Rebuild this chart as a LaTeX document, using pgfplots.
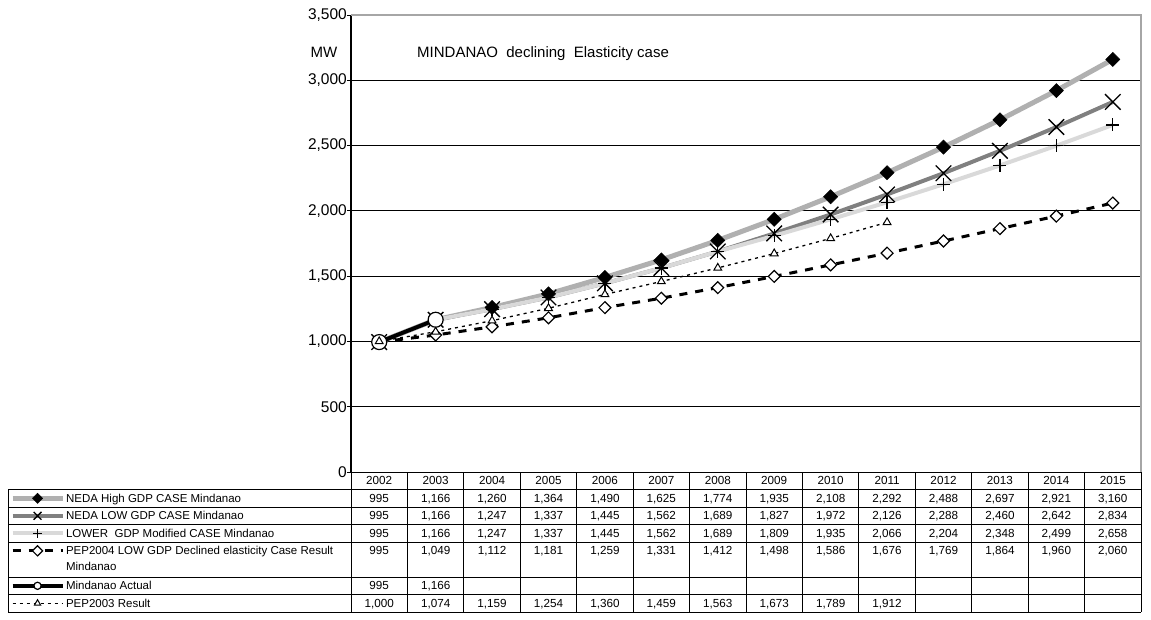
\documentclass[border=0pt]{standalone}
\usepackage{pgfplots}
\pgfplotsset{compat=1.18}
\usepackage{pgfplotstable}
\usepackage{fontspec}
\setmainfont{Liberation Sans}

\pgfplotstableread{
year high low lower pepf actual pept
2002 995 995 995 995 995 1000
2003 1166 1166 1166 1049 1166 1074
2004 1260 1247 1247 1112 nan 1159
2005 1364 1337 1337 1181 nan 1254
2006 1490 1445 1445 1259 nan 1360
2007 1625 1562 1562 1331 nan 1459
2008 1774 1689 1689 1412 nan 1563
2009 1935 1827 1809 1498 nan 1673
2010 2108 1972 1935 1586 nan 1789
2011 2292 2126 2066 1676 nan 1912
2012 2488 2288 2204 1769 nan nan
2013 2697 2460 2348 1864 nan nan
2014 2921 2642 2499 1960 nan nan
2015 3160 2834 2658 2060 nan nan
}\data

\begin{document}
\begin{tikzpicture}[x=1pt,y=1pt]
\path (0,0) rectangle (1151,619);
\begin{axis}[
  at={(351pt,147pt)}, anchor=south west,
  width=790pt, height=457pt, scale only axis,
  xmin=-0.5, xmax=13.5, ymin=0, ymax=3500,
  xtick=\empty,
  ytick={0,500,...,3500},
  ymajorgrids, grid style={black, line width=0.9pt},
  ytick pos=left, tick align=outside, major tick length=4pt,
  ytick style={black, line width=0.9pt},
  /pgf/number format/1000 sep={,},
  /pgf/number format/assume math mode=true,
  yticklabel style={font=\fontsize{15.5}{18}\selectfont, inner sep=0pt},
  axis line style={draw=none},
  clip=false,
  legend cell align=left,
  legend style={at={(axis description cs:-0.4316,-0.0383)}, anchor=north west,
    draw=none, fill=none, inner sep=0pt, outer sep=0pt, row sep=0pt, column sep=1pt,
    font=\fontsize{11.5}{17.5}\selectfont,
    nodes={inner sep=0pt, text height=12.8pt, text depth=4.7pt, anchor=base west}},
  legend image code/.code={\draw[mark size=3.6pt, mark repeat=2, mark phase=2] plot coordinates {(0pt,4pt) (25pt,4pt) (50pt,4pt)};},
]
\addplot[color=gray!62, line width=5pt, mark=square*, mark size=5pt,
  mark options={fill=black, draw=black, rotate=45, line width=0.5pt}]
  table[x expr=\coordindex, y=high]{\data};
\addlegendentry{NEDA High GDP CASE Mindanao}
\addplot[color=gray, line width=4pt, mark=x, mark size=11pt,
  mark options={draw=black, line width=1.3pt},
  legend image code/.code={\draw[mark size=5.5pt, mark repeat=2, mark phase=2] plot coordinates {(0pt,4pt) (25pt,4pt) (50pt,4pt)};}]
  table[x expr=\coordindex, y=low]{\data};
\addlegendentry{NEDA LOW GDP CASE Mindanao}
\addplot[color=gray!30, line width=4pt, mark=+, mark size=6.5pt,
  mark options={draw=black, line width=1.3pt},
  legend image code/.code={\draw[mark size=4.2pt, mark repeat=2, mark phase=2] plot coordinates {(0pt,4pt) (25pt,4pt) (50pt,4pt)};}]
  table[x expr=\coordindex, y=lower]{\data};
\addlegendentry{LOWER\ \ GDP Modified CASE Mindanao}
\addplot[color=black, line width=3pt, dash pattern=on 8pt off 8pt, mark=square*, mark size=4.2pt,
  mark options={solid, fill=white, draw=black, rotate=45, line width=1.2pt}]
  table[x expr=\coordindex, y=pepf]{\data};
\addlegendentry[text depth=22.2pt]{\vtop{\baselineskip=16pt\hbox{PEP2004 LOW GDP Declined elasticity Case Result}\hbox{Mindanao}}}
\addplot[color=black, line width=4pt, mark=*, mark size=7.5pt,
  mark options={fill=white, draw=black, line width=1.2pt}]
  table[x expr=\coordindex, y=actual]{\data};
\addlegendentry{Mindanao Actual}
\addplot[color=black, line width=1.3pt, dash pattern=on 3pt off 4pt, mark=triangle*, mark size=4.5pt,
  mark options={solid, fill=white, draw=black, line width=1pt}]
  table[x expr=\coordindex, y=pept]{\data};
\addlegendentry{PEP2003 Result}
\draw[black, line width=1.5pt] (rel axis cs:0,0) -- (rel axis cs:0,1);
\draw[gray!70, line width=1.5pt] (rel axis cs:0,1) -- (rel axis cs:1,1) -- (rel axis cs:1,0);
\end{axis}
% title and unit
\node[anchor=base west, font=\fontsize{15}{18}\selectfont, inner sep=0pt] at (417,561.6) {MINDANAO\ \ declining\ \ Elasticity case};
\node[anchor=base, font=\fontsize{15}{18}\selectfont, inner sep=0pt] at (324,561.6) {MW};
% data table grid
\begin{scope}[line width=0.9pt, black]
\draw (351,147) -- (1141,147);
\foreach \v in {489.5,507,524.5,542,577,594.5,612} {\draw (8,619-\v) -- (1141,619-\v);}
\draw (8,619-489.5) -- (8,619-612);
\foreach \k in {0,...,14} {\draw ({351+56.4286*\k},147) -- ({351+56.4286*\k},619-612);}
\end{scope}
\begin{scope}[font=\fontsize{11.7}{13.5}\selectfont]
\foreach \i in {0,...,13} {
  \pgfplotstablegetelem{\i}{year}\of\data
  \node[anchor=base, inner sep=0pt] at ({351+56.4286*(\i+0.5)},{619-484.8}) {\pgfplotsretval};
}
\foreach \col/\yb/\n in {high/502.3/13, low/519.8/13, lower/537.3/13, pepf/554.8/13, actual/589.8/1, pept/607.3/9} {
  \foreach \i in {0,...,\n} {
    \pgfplotstablegetelem{\i}{\col}\of\data
    \node[anchor=base, inner sep=0pt] at ({351+56.4286*(\i+0.5)},{619-\yb}) {\pgfmathprintnumber[1000 sep={,}, assume math mode=true]{\pgfplotsretval}};
  }
}
\end{scope}
\end{tikzpicture}
\end{document}
